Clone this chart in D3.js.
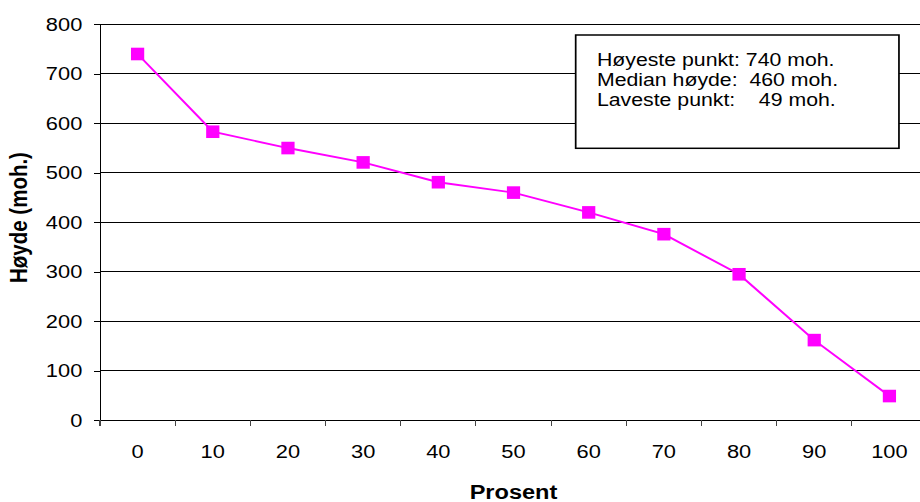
<!DOCTYPE html>
<html>
<head>
<meta charset="utf-8">
<script src="https://cdn.jsdelivr.net/npm/d3@7"></script>
<style>
  html, body { margin: 0; padding: 0; background: #fff; }
  svg { display: block; }
  text { font-family: "Liberation Sans", Arial, sans-serif; fill: #000; }
</style>
</head>
<body>
<svg id="chart" width="920" height="502" viewBox="0 0 800 502" preserveAspectRatio="none"></svg>
<script>
// ---- data ----
const categories = ["0", "10", "20", "30", "40", "50", "60", "70", "80", "90", "100"];
const heights = [740, 583, 550, 521, 481, 460, 420, 376, 295, 162, 49];
const yTicks = [0, 100, 200, 300, 400, 500, 600, 700, 800];
const legendLines = ["Høyeste punkt: 740 moh.", "Median høyde:  460 moh.", "Laveste punkt:    49 moh."];
const xTitle = "Prosent";
const yTitle = "Høyde (moh.)";

// ---- layout (virtual coords; the svg is stretched horizontally by 1.15) ----
const svg = d3.select("#chart");
const pLeft = 86.96, pRight = 806.1, pTop = 24.3, pBottom = 420.3;

const x = d3.scaleBand().domain(categories).range([pLeft, pRight]).padding(0);
const y = d3.scaleLinear().domain([0, 800]).range([pBottom, pTop]);

// gridlines
svg.append("g")
  .selectAll("line")
  .data(yTicks.filter(d => d > 0))
  .join("line")
  .attr("x1", pLeft).attr("x2", 800)
  .attr("y1", d => y(d)).attr("y2", d => y(d))
  .attr("stroke", "#000").attr("stroke-width", 1)
  .attr("shape-rendering", "crispEdges");

// y axis
const yAxis = svg.append("g")
  .attr("transform", `translate(${pLeft},0)`)
  .call(d3.axisLeft(y).tickValues(yTicks).tickSize(5.2).tickPadding(10.2).tickSizeOuter(0));
yAxis.select(".domain").attr("stroke", "#000").attr("shape-rendering", "crispEdges");
yAxis.selectAll(".tick line").attr("stroke", "#000").attr("shape-rendering", "crispEdges");
yAxis.selectAll("text").attr("font-size", 19).attr("font-family", "Liberation Sans, Arial, sans-serif");

// x axis: labels centered in bands
const xAxis = svg.append("g")
  .attr("transform", `translate(0,${pBottom})`)
  .call(d3.axisBottom(x).tickSize(0).tickPadding(24.5).tickSizeOuter(0));
xAxis.select(".domain").remove();
xAxis.selectAll("text").attr("font-size", 19).attr("font-family", "Liberation Sans, Arial, sans-serif");

// x axis line and boundary ticks
svg.append("line")
  .attr("x1", pLeft).attr("x2", 800)
  .attr("y1", pBottom).attr("y2", pBottom)
  .attr("stroke", "#000").attr("shape-rendering", "crispEdges");
svg.append("g")
  .selectAll("line")
  .data(categories)
  .join("line")
  .attr("x1", d => x(d)).attr("x2", d => x(d))
  .attr("y1", pBottom).attr("y2", pBottom + 5.7)
  .attr("stroke", "#444").attr("shape-rendering", "crispEdges");

// line
const pts = categories.map((c, i) => [x(c) + x.bandwidth() / 2, y(heights[i])]);
svg.append("path")
  .attr("d", d3.line()(pts))
  .attr("fill", "none")
  .attr("stroke", "#FF00FF")
  .attr("stroke-width", 1.9);

// markers
const mw = 11.5, mh = 12.6;
svg.append("g")
  .selectAll("rect")
  .data(categories)
  .join("rect")
  .attr("x", (c) => x(c) + x.bandwidth() / 2 - mw / 2)
  .attr("y", (c, i) => y(heights[i]) - mh / 2)
  .attr("width", mw).attr("height", mh)
  .attr("fill", "#FF00FF");

// legend / info box
svg.append("rect")
  .attr("x", 500.6).attr("y", 35)
  .attr("width", 281.1).attr("height", 113.3)
  .attr("fill", "#fff").attr("stroke", "#000").attr("stroke-width", 1.5);
svg.append("g")
  .selectAll("text")
  .data(legendLines)
  .join("text")
  .attr("x", 519.1)
  .attr("y", (d, i) => 66 + i * 20)
  .attr("font-size", 18.5)
  .style("white-space", "pre")
  .attr("xml:space", "preserve")
  .text(d => d);

// axis titles
svg.append("text")
  .attr("x", (pLeft + pRight) / 2)
  .attr("y", 499)
  .attr("text-anchor", "middle")
  .attr("font-size", 20.5)
  .attr("font-weight", "bold")
  .text(xTitle);

svg.append("text")
  .attr("transform", `translate(23.7,217.5) rotate(-90)`)
  .attr("text-anchor", "middle")
  .attr("font-size", 20.5)
  .attr("font-weight", "bold")
  .text(yTitle);
</script>
</body>
</html>
